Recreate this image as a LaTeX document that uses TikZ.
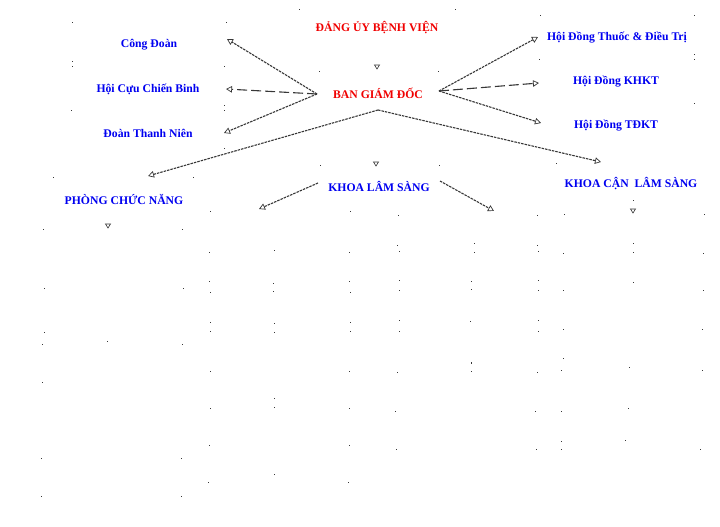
\documentclass[tikz,border=0pt]{standalone}
\usepackage{fontspec}
\setmainfont{Liberation Serif}
\usetikzlibrary{arrows.meta}
\definecolor{orgblue}{RGB}{0,0,240}
\definecolor{orgred}{RGB}{240,0,0}
\definecolor{linkgray}{RGB}{55,55,55}
\tikzset{
  unit/.style={font=\bfseries\fontsize{11.7}{13}\selectfont, inner sep=0pt},
  bluebox/.style={unit, text=orgblue},
  redbox/.style={unit, text=orgred},
  link/.style={draw=linkgray, line width=1.1pt, dash pattern=on 2.5pt off 1pt,
    -{Triangle[open, length=6pt, width=6.5pt, line width=0.7pt]}},
  longlink/.style={link, dash pattern=on 10pt off 4pt},
  marker/.style={draw=linkgray, line width=0.6pt},
}
\begin{document}
\begin{tikzpicture}[x=1pt, y=-1pt]
\useasboundingbox (0,0) rectangle (720,527);

% organisation units
\node[redbox]  (dangUy)  at (377,28)  {ĐẢNG ỦY BỆNH VIỆN};
\node[redbox]  (bgd)     at (378,93)  {BAN GIÁM ĐỐC};
\node[bluebox] (congDoan) at (149,45) {Công Đoàn};
\node[bluebox] (cuuCB)   at (148,89)  {Hội Cựu Chiến Binh};
\node[bluebox] (doanTN)  at (148,133) {Đoàn Thanh Niên};
\node[bluebox] (hdThuoc) at (617,38)  {Hội Đồng Thuốc \& Điều Trị};
\node[bluebox] (hdKHKT)  at (616,82)  {Hội Đồng KHKT};
\node[bluebox] (hdTDKT)  at (616,126) {Hội Đồng TĐKT};
\node[bluebox] (phongCN) at (124,199) {PHÒNG CHỨC NĂNG};
\node[bluebox] (khoaLS)  at (379,186) {KHOA LÂM SÀNG};
\node[bluebox] (khoaCLS) at (631,184) {KHOA CẬN\ \ LÂM SÀNG};

% connector hubs and ends
\coordinate (bgdL) at (317,94);
\coordinate (bgdR) at (439,91);
\coordinate (bgdB) at (378,110);
\coordinate (lsL)  at (318,183);
\coordinate (lsR)  at (440,181);
\coordinate (toCong)  at (227,39);
\coordinate (toCuu)   at (226,89);
\coordinate (toDoan)  at (224,133);
\coordinate (toThuoc) at (538,37);
\coordinate (toKHKT)  at (539,83);
\coordinate (toTDKT)  at (541,123);
\coordinate (toPhong) at (148,176);
\coordinate (toCLS)   at (601,162);
\coordinate (toLSL)   at (259,209);
\coordinate (toLSR)   at (494,211);

% connectors
\draw[link]     (bgdL) -- (toCong);
\draw[longlink] (bgdL) -- (toCuu);
\draw[link]     (bgdL) -- (toDoan);
\draw[link]     (bgdR) -- (toThuoc);
\draw[longlink] (bgdR) -- (toKHKT);
\draw[link]     (bgdR) -- (toTDKT);
\draw[link]     (bgdB) -- (toPhong);
\draw[link]     (bgdB) -- (toCLS);
\draw[link]     (lsL)  -- (toLSL);
\draw[link]     (lsR)  -- (toLSR);

% small down-pointing markers
\foreach \p in {(377,67),(376,164),(108,226),(633,211)}
  \draw[marker] \p ++(-2.5,-2) -- ++(5,0) -- ++(-2.5,4) -- cycle;

% scattered grid dots
\foreach \x/\y in {299/9,72/22,226/22,72/61,72/66,224/66,319/71,71/110,224/105,
  224/110,224/148,320/165,53/177,193/177,210/211,350/211,43/229,182/229,
  455/9,540/15,694/15,694/54,694/59,539/59,438/71,694/103,439/165,556/163,
  633/200,398/215,537/215,564/214,704/214,
  209/252,274/250,349/252,44/288,183/288,209/281,273/283,349/281,210/292,
  273/291,350/292,44/332,210/322,274/323,350/322,210/331,274/332,350/331,
  42/344,107/341,182/344,
  397/245,474/243,537/245,399/251,474/252,538/251,563/253,633/243,633/252,
  703/253,399/280,471/281,538/280,399/290,471/289,538/290,563/290,633/282,
  703/290,399/320,470/321,538/320,399/331,538/331,563/329,702/329,471/362,
  563/358,
  210/371,349/371,42/382,274/398,274/407,210/408,349/408,209/445,349/445,
  41/458,181/458,274/474,208/482,348/482,41/496,181/496,
  471/363,397/372,471/371,537/372,561/370,629/367,702/370,395/411,535/411,
  561/411,628/408,561/441,625/440,396/449,536/449,561/449,700/449}
  \fill[linkgray] (\x,\y) rectangle ++(1,1);
\end{tikzpicture}
\end{document}
